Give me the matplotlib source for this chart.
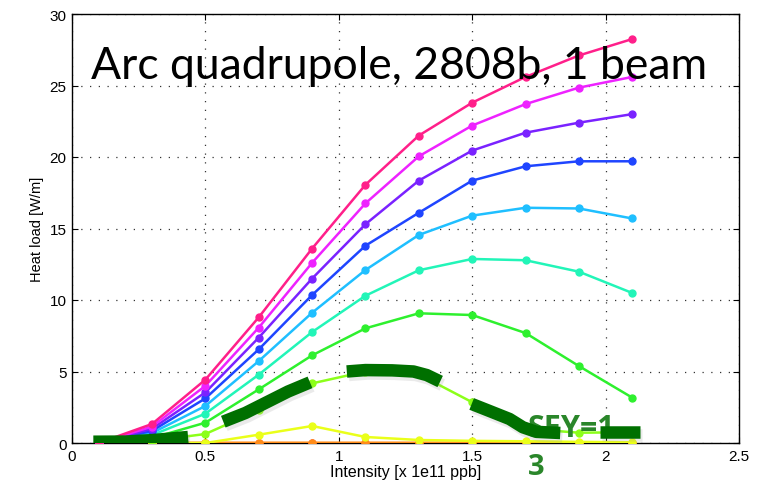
import numpy as np
import matplotlib
matplotlib.use("Agg")
import matplotlib.pyplot as plt

# intensity points [x 1e11 ppb]
intensity = [0.1, 0.3, 0.5, 0.7, 0.9, 1.1, 1.3, 1.5, 1.7, 1.9, 2.1]

# heat load curves [W/m], one per SEY value (top to bottom)
hl_pink = [0.0, 1.33, 4.43, 8.79, 13.6, 18.06, 21.5, 23.8, 25.6, 27.1, 28.25]
hl_magenta = [0.0, 1.15, 4.0, 8.07, 12.6, 16.76, 20.05, 22.2, 23.7, 24.85, 25.6]
hl_purple = [0.0, 1.0, 3.54, 7.37, 11.5, 15.3, 18.35, 20.45, 21.7, 22.4, 23.0]
hl_blue = [0.0, 0.85, 3.12, 6.55, 10.35, 13.8, 16.1, 18.35, 19.35, 19.7, 19.7]
hl_lightblue = [0.0, 0.7, 2.59, 5.73, 9.11, 12.1, 14.55, 15.9, 16.45, 16.4, 15.7]
hl_aqua = [0.0, 0.55, 2.05, 4.78, 7.76, 10.3, 12.08, 12.87, 12.78, 11.98, 10.49]
hl_green = [0.0, 0.35, 1.42, 3.75, 6.13, 8.02, 9.07, 8.95, 7.69, 5.38, 3.17]
hl_ygreen = [0.0, 0.15, 0.63, 2.3, 4.17, 5.0, 4.8, 2.85, 1.0, 0.72, 0.75]
hl_yellow = [0.0, 0.0, 0.0, 0.58, 1.19, 0.42, 0.21, 0.15, 0.12, 0.08, 0.05]
hl_orange = [0.0, 0.0, 0.02, 0.02, 0.02, 0.02, 0.02, 0.02, 0.02, 0.02, 0.02]
hl_red = [0.0, 0.0, 0.0, 0.0, 0.0, 0.0, 0.0, 0.0, 0.0, 0.0, 0.0]

curves = [hl_red, hl_orange, hl_yellow, hl_ygreen, hl_green, hl_aqua,
          hl_lightblue, hl_blue, hl_purple, hl_magenta, hl_pink]
colors = ['#ff2a00', '#ff8c1a', '#eaff1a', '#8cff1a', '#2ef02e', '#22f5b8',
          '#1fbfff', '#1f45ff', '#7a22ff', '#ee22ff', '#ff1f8a']

# hand drawn highlight of the SEY=1.3 curve (thick dark green strokes)
hl_strokes = [
    ([0.08, 0.2, 0.3, 0.435], [0.09, 0.1, 0.2, 0.42]),
    ([0.567, 0.65, 0.73, 0.81, 0.892], [1.49, 2.1, 2.85, 3.6, 4.24]),
    ([1.03, 1.1, 1.2, 1.28, 1.33, 1.38], [5.0, 5.1, 5.08, 5.0, 4.75, 4.3]),
    ([1.498, 1.57, 1.64, 1.69, 1.74, 1.83], [2.73, 2.2, 1.68, 1.1, 0.78, 0.7]),
    ([1.98, 2.13], [0.79, 0.79]),
]

fig = plt.figure(figsize=(7.63, 4.81), dpi=100)
ax = fig.add_axes([72 / 763, 1 - 444 / 481, 667 / 763, 429 / 481])

for vals, c in zip(curves, colors):
    ax.plot(intensity, vals, '-o', color=c, lw=1.8, ms=5, mec=c, zorder=3)

ax.set_xlim(0, 2.5)
ax.set_ylim(0, 30)
ax.set_xticks([0, 0.5, 1, 1.5, 2, 2.5])
ax.set_xticklabels(['0', '0.5', '1', '1.5', '2', '2.5'])
ax.set_yticks([0, 5, 10, 15, 20, 25, 30])
ax.grid(True, ls=(0, (1, 6)), color='#333333', lw=0.9)
ax.tick_params(direction='in', length=4, labelsize=11, pad=4,
               top=True, right=True)
for lab in ax.get_xticklabels() + ax.get_yticklabels():
    lab.set_family('Liberation Sans')
for s in ax.spines.values():
    s.set_linewidth(1.0)

ax.set_xlabel('Intensity [x 1e11 ppb]', family='Liberation Sans',
              fontsize=11.5, labelpad=1)
ax.set_ylabel('Heat load [W/m]', family='Liberation Sans',
              fontsize=10.5, labelpad=4)

ax.text(0.071, 25.5, 'Arc quadrupole, 2808b, 1 beam', family='Lato',
        fontsize=32, va='baseline', ha='left', zorder=5)

ax.text(1.709, 0.5, 'SEY=1', family='Open Sans', weight='bold',
        fontsize=22, color='#2a862a', va='baseline', ha='left', zorder=4)
ax.text(1.709, -2.15, '3', family='Open Sans', weight='bold',
        fontsize=21, color='#2a862a', va='baseline', ha='left',
        clip_on=False, zorder=4)

for xs, ys in hl_strokes:
    ax.plot(xs, ys, color='#9a9a9a', lw=9, alpha=0.2,
            solid_capstyle='butt', zorder=5,
            transform=ax.transData + matplotlib.transforms.ScaledTranslation(
                1.5 / 72, -2.5 / 72, fig.dpi_scale_trans))
    ax.plot(xs, ys, color='#007000', lw=9, solid_capstyle='butt', zorder=6)

fig.savefig('out.png', dpi=100)
